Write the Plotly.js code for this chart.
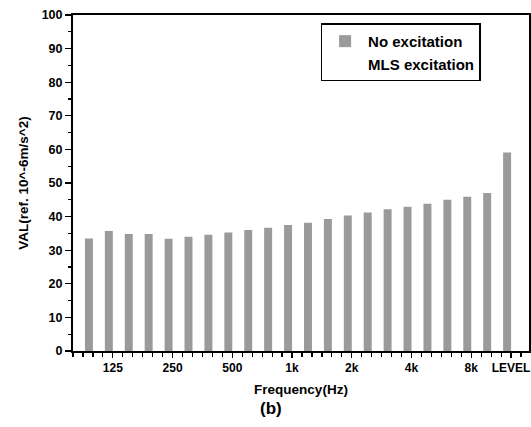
<!DOCTYPE html>
<html>
<head>
<meta charset="utf-8">
<script src="https://cdn.plot.ly/plotly-3.0.1.min.js"></script>
<style>html,body{margin:0;padding:0;background:#fff;}#chart{width:531px;height:427px;}</style>
</head>
<body>
<div id="chart"></div>
<script>
// One-third octave bands plus the overall level
const categories = ['100','125','160','200','250','315','400','500','630','800','1k','1.25k','1.6k','2k','2.5k','3.15k','4k','5k','6.3k','8k','10k','LEVEL'];
// No excitation (visible grey bars)
const noExcitation = [33.5,35.7,34.8,34.8,33.4,34.0,34.6,35.3,36.0,36.7,37.5,38.2,39.3,40.3,41.2,42.2,42.9,43.8,45.0,45.9,47.0,59.1];
// MLS excitation: drawn in white in the reference, values not readable
const mlsExcitation = categories.map(() => null);
// Labelled ticks
const tickLabels = ['125','250','500','1k','2k','4k','8k','LEVEL'];

const xIdx = categories.map((c, i) => i);
const tickIdx = tickLabels.map(t => categories.indexOf(t));

const font = 'Liberation Sans, Arial, sans-serif';

const traces = [
  {type:'bar', name:'No excitation', x:xIdx, y:noExcitation,
   marker:{color:'#9a9a9a', line:{width:0}}, hoverinfo:'skip'},
  {type:'bar', name:'MLS excitation', x:xIdx, y:mlsExcitation,
   marker:{color:'#ffffff', line:{width:0}}, hoverinfo:'skip'}
];

const layout = {
  width:531, height:427,
  margin:{l:73, r:2, t:15, b:76},
  paper_bgcolor:'#fff', plot_bgcolor:'#fff',
  font:{family:font, color:'#000', size:12},
  barmode:'group', bargap:0.2, bargroupgap:0,
  showlegend:true,
  legend:{x:0.543, y:0.975, xanchor:'left', yanchor:'top',
    bordercolor:'#000', borderwidth:1.5, bgcolor:'#fff',
    font:{family:font, size:15, color:'#000', weight:'bold'}, traceorder:'normal',
    itemwidth:36, tracegroupgap:0},
  xaxis:{type:'linear', range:[-1, 21.9], tickmode:'array', tickvals:tickIdx, ticktext:tickLabels,
    ticks:'outside', ticklen:5, tickwidth:1.2, tickcolor:'#000',
    minor:{tickmode:'linear', tick0:0, dtick:0.5, ticks:'outside', ticklen:4, tickwidth:1.2, tickcolor:'#000'},
    showgrid:false, zeroline:false, showline:true, linecolor:'#000', linewidth:2, mirror:true,
    tickfont:{family:font, size:12, weight:'bold'},
    title:{text:'Frequency(Hz)', font:{family:font, size:13.5, weight:'bold'}, standoff:10}},
  yaxis:{range:[0,100], dtick:10, tick0:0,
    ticks:'outside', ticklen:6, tickwidth:1.2, tickcolor:'#000',
    minor:{dtick:5, ticks:'outside', ticklen:3, tickwidth:1.2, tickcolor:'#000'},
    showgrid:false, zeroline:false, showline:true, linecolor:'#000', linewidth:2, mirror:true,
    tickfont:{family:font, size:12.5, weight:'bold'},
    title:{text:'VAL(ref. 10^-6m/s^2)', font:{family:font, size:13.5, weight:'bold'}, standoff:10}},
  annotations:[
    {text:'(b)', xref:'paper', yref:'paper', x:0.435, y:-0.17, xanchor:'center', yanchor:'middle',
     showarrow:false, font:{family:font, size:17, color:'#000', weight:'bold'}}
  ]
};

Plotly.newPlot('chart', traces, layout, {staticPlot:true, displayModeBar:false});
</script>
</body>
</html>
